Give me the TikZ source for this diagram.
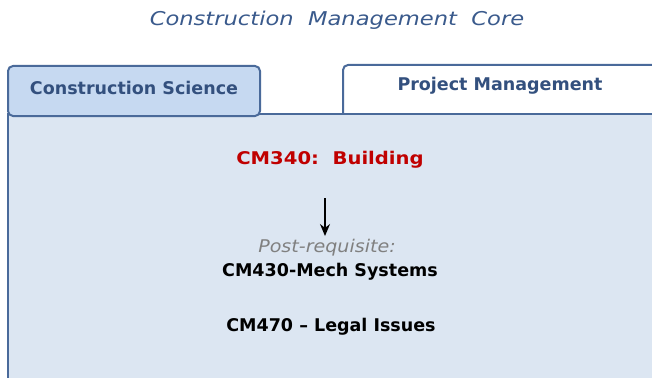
\documentclass[tikz,border=0pt]{standalone}
\usepackage{graphicx}
\usepackage{fontspec}
\setmainfont{DejaVu Sans}
\usetikzlibrary{arrows.meta}
\definecolor{panelfill}{HTML}{DCE6F2}
\definecolor{tabfill}{HTML}{C6D9F1}
\definecolor{edgeblue}{HTML}{4A6A9A}
\definecolor{titleblue}{HTML}{3A5A8C}
\definecolor{tabtext}{HTML}{33507E}
\definecolor{coursered}{HTML}{C00000}
\tikzset{
    tabbox/.style={draw=edgeblue, line width=2pt, rounded corners=5pt},
    tablabel/.style={font=\fontsize{17.5}{20}\selectfont\bfseries, text=tabtext},
    course/.style={font=\fontsize{17.5}{20}\selectfont\bfseries},
}
\begin{document}
\begin{tikzpicture}[x=1pt, y=-1pt]
            \useasboundingbox (0, 0) rectangle (652, 377);
            \clip (0, 0) rectangle (652, 377);
            \fill [white] (0, 0) rectangle (652, 377);
            \node (title) at (337, 20) {\scalebox{1.19}[1]{\fontsize{19}{21}\selectfont\itshape\color{titleblue}Construction\ \ Management\ \ Core}};
            \filldraw [tabbox, fill=white] (343, 113) -- (343, 65) -- (670, 65) -- (670, 113);
            \filldraw [draw=edgeblue, line width=2pt, fill=panelfill] (8, 114) rectangle (670, 390);
            \filldraw [tabbox, fill=tabfill] (8, 66) rectangle (260, 116);
            \node (science) [tablabel] at (134, 88) {Construction Science};
            \node (project) [tablabel] at (500, 86) {Project Management};
            \node (cm340) [course, text=coursered] at (330, 160) {\scalebox{1.12}[1]{CM340:\ \ Building}};
            \node (post) at (327, 248) {\scalebox{1.09}[1]{\fontsize{17.5}{20}\selectfont\itshape\color{gray}Post-requisite:}};
            \node (cm430) [course] at (330, 272) {CM430-Mech Systems};
            \node (cm470) [course] at (331, 327) {CM470 -- Legal Issues};
            % arrow down to the post-requisites
            \draw [-{Stealth[length=12pt, width=10pt]}, line width=1.3pt, shorten <=26pt] (cm340.south -| 325, 0) -- (post.north -| 325, 0);
        \end{tikzpicture}
\end{document}
